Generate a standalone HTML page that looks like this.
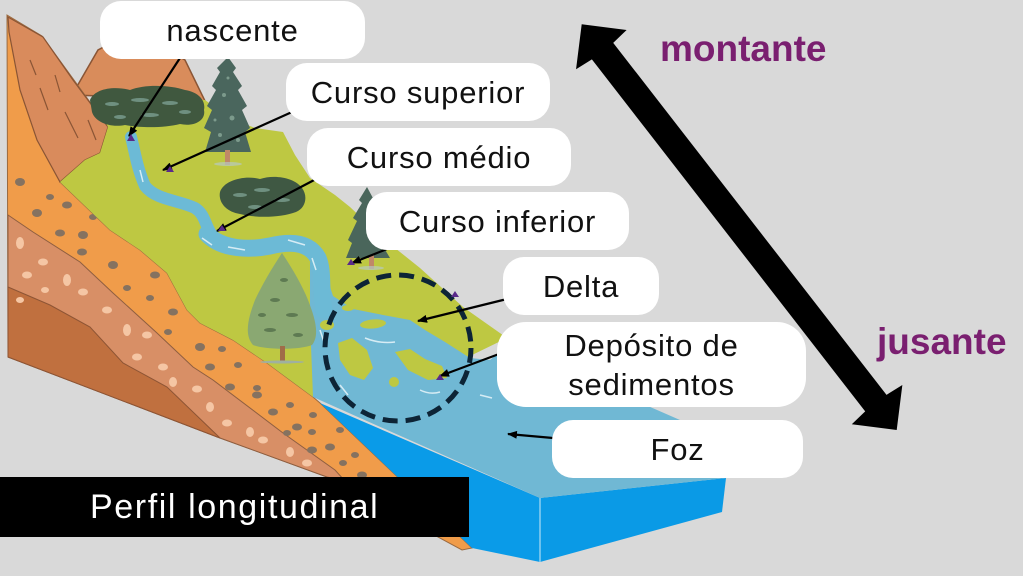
<!DOCTYPE html>
<html><head><meta charset="utf-8">
<style>
html,body{margin:0;padding:0;}
body{width:1023px;height:576px;position:relative;overflow:hidden;background:#d9d9d9;font-family:"Liberation Sans",Arial,sans-serif;}
svg{position:absolute;left:0;top:0;}
.l{position:absolute;background:#fff;border-radius:21px;display:flex;align-items:center;justify-content:center;font-size:31px;letter-spacing:0.8px;color:#111;white-space:nowrap;line-height:39px;text-align:center;}
</style></head><body>
<svg width="1023" height="576" viewBox="0 0 1023 576" xmlns="http://www.w3.org/2000/svg">
<defs>
<marker id="ah" viewBox="0 0 10 8" refX="9" refY="4" markerWidth="10" markerHeight="8" markerUnits="userSpaceOnUse" orient="auto"><path d="M0,0L10,4L0,8z" fill="#000"/></marker>
</defs>
<rect width="1023" height="576" fill="#d9d9d9"/>

<!-- back mountain -->
<polygon points="72,95 98,50 125,36 150,40 185,60 207,105 160,98" fill="#d98c5b" stroke="#8a5535" stroke-width="1.5"/>

<!-- strata -->
<polygon points="7,15 42,36 74,80 108,127 100,153 60,182 110,230 140,250 167,273 187,310 200,323 233,340 267,363 313,397 320,403 472,548 462,550 327,477 220,438 8,357" fill="#f09c4a" stroke="#9a6a40" stroke-width="1"/>
<polygon points="8,215 33,232 80,262 113,293 157,333 193,367 213,380 283,433 335,470 345,481 327,477 220,438 8,357" fill="#d88f66" stroke="#8e5e40" stroke-width="1"/>
<polygon points="8,287 50,305 90,327 123,363 167,387 220,438 8,357" fill="#c0703f" stroke="#8e5535" stroke-width="1"/>

<!-- dark spots -->
<g fill="#857260">
<ellipse cx="20" cy="182" rx="5" ry="4"/><ellipse cx="50" cy="197" rx="4" ry="3"/><ellipse cx="67" cy="205" rx="5" ry="3.5"/>
<ellipse cx="37" cy="213" rx="5" ry="4"/><ellipse cx="93" cy="217" rx="4" ry="3"/><ellipse cx="60" cy="233" rx="5" ry="3.5"/>
<ellipse cx="83" cy="235" rx="5" ry="4"/><ellipse cx="82" cy="252" rx="5" ry="3.5"/><ellipse cx="113" cy="265" rx="5" ry="4"/>
<ellipse cx="127" cy="288" rx="4" ry="3"/><ellipse cx="155" cy="275" rx="5" ry="3.5"/><ellipse cx="150" cy="298" rx="4" ry="3"/>
<ellipse cx="173" cy="312" rx="5" ry="3.5"/><ellipse cx="168" cy="332" rx="4" ry="3"/><ellipse cx="200" cy="347" rx="5" ry="4"/>
<ellipse cx="222" cy="349" rx="4" ry="3"/><ellipse cx="210" cy="367" rx="5" ry="3.5"/><ellipse cx="238" cy="365" rx="4" ry="3"/>
<ellipse cx="230" cy="387" rx="5" ry="3.5"/><ellipse cx="257" cy="388" rx="4" ry="3"/><ellipse cx="273" cy="412" rx="5" ry="3.5"/>
<ellipse cx="290" cy="405" rx="4" ry="3"/><ellipse cx="297" cy="427" rx="5" ry="3.5"/><ellipse cx="312" cy="432" rx="4" ry="3"/>
<ellipse cx="330" cy="447" rx="5" ry="3.5"/><ellipse cx="343" cy="463" rx="4" ry="3"/><ellipse cx="257" cy="395" rx="5" ry="3.5"/>
<ellipse cx="313" cy="415" rx="4" ry="3"/><ellipse cx="287" cy="433" rx="4" ry="3"/><ellipse cx="312" cy="450" rx="5" ry="3.5"/>
<ellipse cx="355" cy="455" rx="4" ry="3"/><ellipse cx="362" cy="475" rx="5" ry="3.5"/><ellipse cx="340" cy="430" rx="4" ry="3"/>
</g>
<!-- light spots -->
<g fill="#f5c6a4">
<ellipse cx="20" cy="243" rx="4" ry="6"/><ellipse cx="27" cy="275" rx="5" ry="3.5"/><ellipse cx="43" cy="262" rx="5" ry="3.5"/>
<ellipse cx="67" cy="280" rx="4" ry="6"/><ellipse cx="83" cy="292" rx="5" ry="3.5"/><ellipse cx="107" cy="310" rx="5" ry="3.5"/>
<ellipse cx="127" cy="330" rx="4" ry="6"/><ellipse cx="147" cy="335" rx="5" ry="3.5"/><ellipse cx="137" cy="357" rx="5" ry="3.5"/>
<ellipse cx="163" cy="367" rx="5" ry="3.5"/><ellipse cx="173" cy="382" rx="4" ry="5"/><ellipse cx="197" cy="389" rx="5" ry="3.5"/>
<ellipse cx="210" cy="407" rx="4" ry="5"/><ellipse cx="227" cy="423" rx="5" ry="3.5"/><ellipse cx="250" cy="432" rx="4" ry="5"/>
<ellipse cx="263" cy="440" rx="5" ry="3.5"/><ellipse cx="290" cy="452" rx="4" ry="5"/><ellipse cx="307" cy="463" rx="5" ry="3.5"/>
<ellipse cx="20" cy="300" rx="4" ry="3"/><ellipse cx="45" cy="290" rx="4" ry="3"/>
</g>

<!-- front mountain face -->
<polygon points="8,17 43,37 73,80 108,127 100,153 85,160 60,182 37,140 20,90 9,32" fill="#d98b5c" stroke="#8a5535" stroke-width="1.2"/>
<g stroke="#8a5535" stroke-width="1.2" fill="none">
<path d="M40,88 L48,110"/><path d="M65,112 L78,138"/><path d="M30,60 L36,75"/><path d="M88,120 L96,140"/><path d="M55,75 L60,92"/>
</g>

<!-- land surface -->
<polygon points="60,182 85,160 100,153 108,127 95,102 140,95 205,100 230,118 255,128 283,132 295,155 310,178 335,195 350,207 385,240 420,268 463,307 507,338 470,356 400,385 313,397 267,363 233,340 200,323 187,310 167,273 140,250 110,230" fill="#bec842"/>

<!-- sea block -->
<polygon points="320,403 540,498 540,562 472,548" fill="#0a9be8"/>
<polygon points="540,498 726,478 722,512 540,562" fill="#0a9ae6"/>
<line x1="540" y1="498" x2="540" y2="562" stroke="#8ccff0" stroke-width="1.5"/>
<polygon points="313,397 540,498 726,478 745,468 680,420 600,385 510,343 490,360 470,358 445,342 425,330 410,320 383,315 353,309 333,296 322,262 310,262 310,320" fill="#70b8d4"/>

<!-- river -->
<path d="M131,137 C135,152 137,168 145,186 C156,200 178,200 195,208 C208,216 204,232 220,243" fill="none" stroke="#6cbad6" stroke-width="12" stroke-linecap="round"/>
<path d="M207,234 C222,250 250,250 270,246 C295,240 310,244 318,258 C324,272 320,290 324,310" fill="none" stroke="#6cbad6" stroke-width="17" stroke-linecap="round"/>
<g stroke="#e2f2f8" stroke-width="1.5" fill="none" opacity=".9">
<path d="M140,170 L143,182"/><path d="M202,238 L212,245"/><path d="M228,247 L245,250"/><path d="M288,240 L305,245"/><path d="M312,258 L316,270"/>
<path d="M365,338 Q380,344 395,342"/><path d="M340,385 L348,395"/><path d="M420,390 Q430,395 440,392"/><path d="M480,395 L492,398"/><path d="M320,330 L325,345"/>
</g>

<!-- delta islands -->
<g fill="#bec842">
<ellipse cx="373" cy="324" rx="13" ry="4.5" transform="rotate(-5 373 324)"/>
<polygon points="338,343 352,338 367,350 373,368 364,380 350,375 340,360"/>
<polygon points="395,352 410,349 425,359 442,366 447,378 428,380 408,370"/>
<circle cx="394" cy="382" r="5"/>
<ellipse cx="327" cy="325" rx="7" ry="5"/>
<ellipse cx="348" cy="308" rx="6" ry="3"/>
</g>

<!-- bushes top -->
<path d="M90,100 C95,88 115,86 130,90 C145,84 170,85 185,90 C198,92 206,100 204,110 C206,120 195,127 180,124 C165,128 140,128 125,125 C110,128 95,122 92,112 Z" fill="#40583f"/>
<g fill="#6f9080"><ellipse cx="112" cy="104" rx="7" ry="2"/><ellipse cx="140" cy="100" rx="9" ry="2"/><ellipse cx="170" cy="103" rx="8" ry="2"/><ellipse cx="150" cy="115" rx="9" ry="2"/><ellipse cx="185" cy="112" rx="6" ry="2"/><ellipse cx="120" cy="117" rx="6" ry="2"/></g>

<!-- mid bush -->
<path d="M220,192 C224,180 245,175 260,179 C275,174 295,178 302,188 C308,196 306,208 296,212 C280,218 255,218 240,214 C226,212 218,202 220,192 Z" fill="#3f5843"/>
<g fill="#6f9080"><ellipse cx="240" cy="195" rx="7" ry="2"/><ellipse cx="262" cy="190" rx="8" ry="2"/><ellipse cx="282" cy="200" rx="8" ry="2"/><ellipse cx="255" cy="207" rx="7" ry="2"/></g>

<!-- tall dark tree -->
<polygon points="228,57 236,68 233,72 242,86 238,90 247,106 242,110 250,128 245,132 251,152 205,152 211,132 204,128 212,110 207,106 216,90 212,86 220,72 217,68" fill="#4a665d"/>
<g fill="#7c9a8c"><circle cx="224" cy="95" r="2"/><circle cx="232" cy="118" r="2.5"/><circle cx="220" cy="135" r="2"/><circle cx="238" cy="140" r="2"/><circle cx="228" cy="78" r="1.5"/><circle cx="215" cy="120" r="1.5"/></g>
<rect x="225" y="150" width="5" height="15" fill="#c08868"/>
<ellipse cx="228" cy="164" rx="14" ry="2" fill="#b7c9c0" opacity=".7"/>

<!-- right dark tree -->
<polygon points="367,187 374,200 371,203 380,218 376,221 386,240 381,243 390,258 346,258 352,243 348,240 357,221 353,218 362,203 359,200" fill="#4a665b"/>
<rect x="369" y="255" width="5" height="14" fill="#c08868"/>
<ellipse cx="371" cy="268" rx="13" ry="2" fill="#b7c9c0" opacity=".7"/>

<!-- pine -->
<path d="M282,253 C292,268 302,285 308,300 C315,318 320,335 312,345 C300,350 265,350 253,345 C244,335 248,318 255,300 C262,285 272,268 282,253Z" fill="#8aa872"/>
<g fill="#5e7a52"><ellipse cx="275" cy="300" rx="5" ry="2"/><ellipse cx="292" cy="315" rx="6" ry="2"/><ellipse cx="270" cy="330" rx="6" ry="2"/><ellipse cx="284" cy="280" rx="4" ry="2"/><ellipse cx="298" cy="335" rx="5" ry="2"/><ellipse cx="262" cy="315" rx="4" ry="2"/></g>
<rect x="280" y="346" width="5" height="15" fill="#a06c48"/>
<ellipse cx="282" cy="362" rx="22" ry="1.5" fill="#9fb0a0"/>

<!-- dashed circle -->
<circle cx="398" cy="348" r="73" fill="none" stroke="#0d2436" stroke-width="5" stroke-dasharray="15 8"/>

<!-- connectors -->
<g stroke="#000" stroke-width="2.2" marker-end="url(#ah)">
<line x1="180" y1="58" x2="129" y2="136"/>
<line x1="292" y1="112" x2="163" y2="170"/>
<line x1="318" y1="178" x2="217" y2="231"/>
<line x1="387" y1="249" x2="352" y2="263"/>
<line x1="507" y1="299" x2="418" y2="321"/>
<line x1="499" y1="354" x2="440" y2="376"/>
<line x1="553" y1="438" x2="508" y2="434"/>
</g>
<!-- purple markers -->
<g fill="#5a2a8a">
<polygon points="131,134 135,141 127,141"/><polygon points="170,166 174,172 166,172"/><polygon points="222,225 226,231 218,231"/>
<polygon points="351,259 355,265 347,265"/><polygon points="455,291 459,297 451,297"/><polygon points="440,374 444,380 436,380"/>
</g>

<!-- double arrow -->
<g transform="translate(581.7,24.3) rotate(52.17)">
<polygon points="0,0 32,-32 34,-13.5 479.6,-13.5 481.6,-32 513.6,0 481.6,32 479.6,13.5 34,13.5 32,32" fill="#000"/>
</g>
<text x="660" y="61" font-family="Liberation Sans, Arial, sans-serif" font-size="37" font-weight="bold" fill="#7a1f70">montante</text>
<text x="877" y="354" font-family="Liberation Sans, Arial, sans-serif" font-size="37" font-weight="bold" fill="#7a1f70">jusante</text>

<!-- black title box -->
<rect x="0" y="477" width="469" height="60" fill="#000"/>
<text x="90" y="518" font-family="Liberation Sans, Arial, sans-serif" font-size="34" letter-spacing="1.6" fill="#fff">Perfil longitudinal</text>
</svg>

<div class="l" style="left:100px;top:1px;width:265px;height:58px">nascente</div>
<div class="l" style="left:286px;top:63px;width:264px;height:58px">Curso superior</div>
<div class="l" style="left:307px;top:128px;width:264px;height:58px">Curso médio</div>
<div class="l" style="left:366px;top:192px;width:263px;height:58px">Curso inferior</div>
<div class="l" style="left:503px;top:257px;width:156px;height:58px">Delta</div>
<div class="l" style="left:497px;top:322px;width:309px;height:85px;border-radius:29px">Depósito de<br>sedimentos</div>
<div class="l" style="left:552px;top:420px;width:251px;height:58px">Foz</div>
</body></html>
